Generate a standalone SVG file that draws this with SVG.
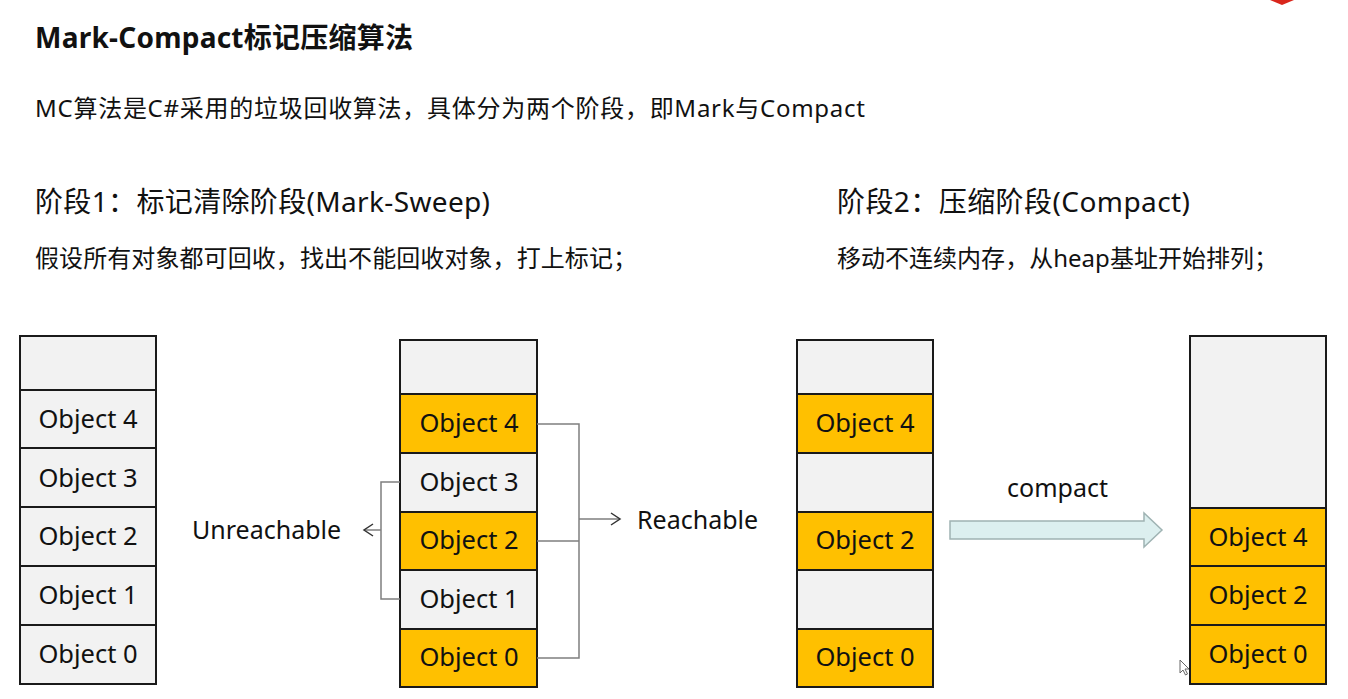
<svg xmlns="http://www.w3.org/2000/svg" width="1348" height="699" viewBox="0 0 1348 699">
<style>
text{font-family:"Noto Sans","Noto Sans CJK SC",sans-serif;fill:#111}
.title{font-size:28px;font-weight:bold}
.h{font-size:28px}
.s{font-size:24px}
.t{font-size:25px}
.cell{stroke:#1a1a1a;stroke-width:2}
.g{fill:#f2f2f2}
.o{fill:#ffc000}
.lbl{font-size:25.5px;text-anchor:middle}
.con{fill:none;stroke:#7f7f7f;stroke-width:1.5}
.ah{fill:none;stroke:#333;stroke-width:1.5}
</style>
<rect width="1348" height="699" fill="#fff"/>
<polygon points="1270,0 1294,0 1282,5" fill="#d9261c"/>
<text class="title" x="35" y="48" textLength="378">Mark-Compact标记压缩算法</text>
<text class="s" x="35" y="117" textLength="830">MC算法是C#采用的垃圾回收算法，具体分为两个阶段，即Mark与Compact</text>
<text class="h" x="35" y="212" textLength="455">阶段1：标记清除阶段(Mark-Sweep)</text>
<text class="s" x="35" y="267" textLength="602">假设所有对象都可回收，找出不能回收对象，打上标记；</text>
<text class="h" x="837" y="212" textLength="353">阶段2：压缩阶段(Compact)</text>
<text class="s" x="837" y="267" textLength="441">移动不连续内存，从heap基址开始排列；</text>

<g id="col1">
<g id="c1-empty"><rect class="cell g" x="20" y="336" width="136" height="54"/></g>
<g id="c1-o4"><rect class="cell g" x="20" y="390" width="136" height="58"/><text class="lbl" x="88" y="428">Object 4</text></g>
<g id="c1-o3"><rect class="cell g" x="20" y="448" width="136" height="59"/><text class="lbl" x="88" y="487">Object 3</text></g>
<g id="c1-o2"><rect class="cell g" x="20" y="507" width="136" height="59"/><text class="lbl" x="88" y="545">Object 2</text></g>
<g id="c1-o1"><rect class="cell g" x="20" y="566" width="136" height="59"/><text class="lbl" x="88" y="604">Object 1</text></g>
<g id="c1-o0"><rect class="cell g" x="20" y="625" width="136" height="59"/><text class="lbl" x="88" y="663">Object 0</text></g>
</g>

<g id="col2">
<g id="c2-empty"><rect class="cell g" x="400" y="340" width="137" height="54"/></g>
<g id="c2-o4"><rect class="cell o" x="400" y="394" width="137" height="59"/><text class="lbl" x="469" y="432">Object 4</text></g>
<g id="c2-o3"><rect class="cell g" x="400" y="453" width="137" height="59"/><text class="lbl" x="469" y="491">Object 3</text></g>
<g id="c2-o2"><rect class="cell o" x="400" y="512" width="137" height="58"/><text class="lbl" x="469" y="549">Object 2</text></g>
<g id="c2-o1"><rect class="cell g" x="400" y="570" width="137" height="59"/><text class="lbl" x="469" y="608">Object 1</text></g>
<g id="c2-o0"><rect class="cell o" x="400" y="629" width="137" height="58"/><text class="lbl" x="469" y="666">Object 0</text></g>
</g>

<g id="col3">
<g id="c3-empty"><rect class="cell g" x="797" y="340" width="136" height="54"/></g>
<g id="c3-o4"><rect class="cell o" x="797" y="394" width="136" height="59"/><text class="lbl" x="865" y="432">Object 4</text></g>
<g id="c3-e3"><rect class="cell g" x="797" y="453" width="136" height="59"/></g>
<g id="c3-o2"><rect class="cell o" x="797" y="512" width="136" height="58"/><text class="lbl" x="865" y="549">Object 2</text></g>
<g id="c3-e1"><rect class="cell g" x="797" y="570" width="136" height="59"/></g>
<g id="c3-o0"><rect class="cell o" x="797" y="629" width="136" height="58"/><text class="lbl" x="865" y="666">Object 0</text></g>
</g>

<g id="col4">
<g id="c4-empty"><rect class="cell g" x="1190" y="336" width="136" height="172"/></g>
<g id="c4-o4"><rect class="cell o" x="1190" y="508" width="136" height="58"/><text class="lbl" x="1258" y="546">Object 4</text></g>
<g id="c4-o2"><rect class="cell o" x="1190" y="566" width="136" height="59"/><text class="lbl" x="1258" y="604">Object 2</text></g>
<g id="c4-o0"><rect class="cell o" x="1190" y="625" width="136" height="59"/><text class="lbl" x="1258" y="663">Object 0</text></g>
</g>

<g id="connectors">
<path class="con" d="M400,482 H381 V599 H400"/>
<path class="con" d="M381,530 H364"/>
<path class="ah" d="M373,524 L364,530 L373,536"/>
<path class="con" d="M537,424 H579 V658 H537 M537,541 H579 M579,519 H620"/>
<path class="ah" d="M611,513 L620,519 L611,525"/>
<polygon points="950,521 1144,521 1144,513 1162,530 1144,547 1144,539 950,539" fill="#dcefef" stroke="#9fb3b3" stroke-width="1.5"/>
</g>

<g id="labels">
<text class="t" x="192" y="539">Unreachable</text>
<text class="t" x="637" y="529">Reachable</text>
<text class="t" x="1007" y="497">compact</text>
</g>

<path d="M1180,660 V673 L1183,670 L1185.5,675 L1187.5,674 L1185,669 H1189 Z" fill="#fff" stroke="#666" stroke-width="1"/>
</svg>
